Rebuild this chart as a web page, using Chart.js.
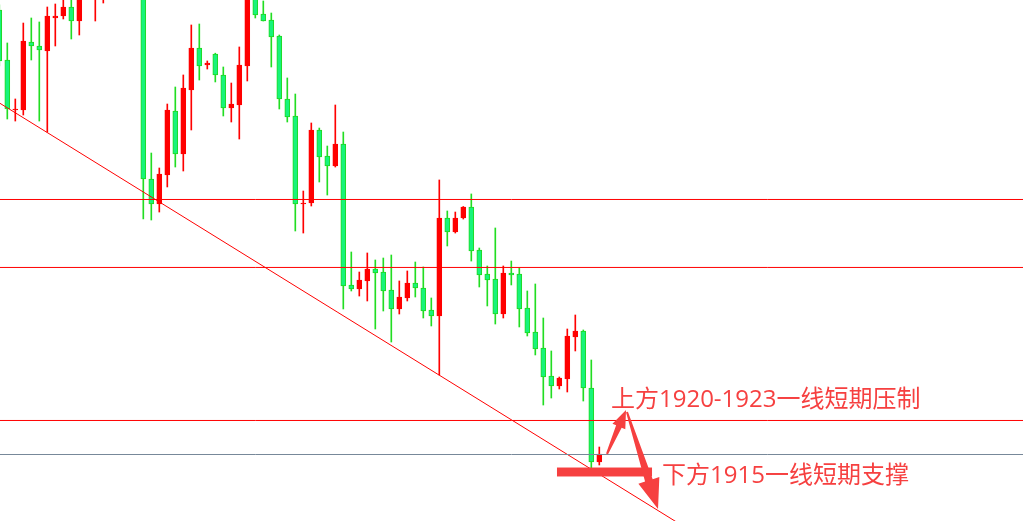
<!doctype html>
<html lang="zh">
  <head>
    <meta charset="utf-8">
    <script src="https://cdn.jsdelivr.net/npm/chart.js@4.4.1/dist/chart.umd.min.js"></script>
    <title>K线</title>
    <style>
      html, body { margin: 0; padding: 0; background: #fff; }
      #box { width: 1023px; height: 521px; position: relative; }
    </style>
  </head>
  <body>
    <div id="box"><canvas id="grafica"></canvas></div>

  <script>

    // OHLC (index = candle position)
    let opens  = [1978.57,1971.43,1964.29,1964.29,1974.0,1973.43,1972.71,1977.43,1977.71,1979.0,
                  1977.0,1984.5,1981.0,1981.5,1987.1,1989.3,1988.0,1991.0,1990.0,1954.43,
                  1950.86,1955.0,1964.14,1958.0,1967.14,1973.14,1970.71,1972.29,1969.29,1964.57,
                  1965.0,1970.57,1980.86,1978.0,1977.14,1974.86,1965.86,1963.43,1950.86,1951.0,
                  1961.43,1957.71,1956.29,1959.43,1939.29,1938.71,1939.86,1941.57,1941.14,1938.57,
                  1935.86,1937.43,1939.57,1938.86,1935.71,1934.86,1948.86,1946.86,1948.86,1950.43,
                  1944.29,1940.86,1940.14,1935.14,1941.0,1940.86,1936.0,1932.57,1930.29,1926.29,
                  1924.86,1925.86,1931.86,1932.71,1924.57,1914.0];
    let highs  = [1979.3,1973.86,1965.86,1976.71,1977.43,1976.86,1979.0,1979.43,1980.29,1980.43,
                  1983.0,1985.5,1985.0,1986.5,1990.0,1991.5,1992.0,1992.5,1990.8,1958.14,
                  1956.0,1965.14,1967.57,1969.29,1976.43,1976.57,1971.29,1972.4,1970.43,1968.14,
                  1973.29,1982.86,1982.14,1979.86,1978.14,1975.0,1968.86,1966.57,1952.71,1962.43,
                  1961.71,1959.14,1965.0,1961.14,1944.0,1941.14,1943.86,1942.86,1943.14,1943.57,
                  1939.86,1941.29,1942.57,1941.86,1937.43,1954.29,1949.86,1949.71,1950.5,1952.29,
                  1944.57,1942.0,1947.43,1942.0,1942.71,1941.71,1938.43,1939.43,1934.57,1929.86,
                  1926.14,1933.0,1935.0,1932.86,1928.57,1916.14];
    let lows   = [1970.6,1963.0,1962.71,1963.57,1971.43,1962.71,1961.14,1973.43,1977.29,1974.43,
                  1975.0,1980.8,1977.0,1979.57,1986.0,1987.5,1987.2,1988.5,1948.71,1948.57,
                  1949.71,1953.29,1956.14,1955.57,1961.43,1968.57,1970.14,1968.29,1963.43,1962.57,
                  1960.14,1968.43,1977.43,1977.0,1970.43,1964.43,1962.57,1947.0,1946.71,1950.57,
                  1954.0,1952.14,1956.14,1935.86,1938.43,1937.71,1937.0,1933.0,1935.57,1931.14,
                  1935.14,1937.0,1937.57,1934.57,1933.43,1926.43,1944.86,1946.71,1948.71,1942.71,
                  1939.0,1936.29,1933.71,1934.57,1939.29,1933.29,1932.0,1929.29,1922.14,1923.14,
                  1924.43,1924.0,1929.86,1922.71,1913.0,1913.57];
    let closes = [1971.29,1964.43,1964.43,1974.14,1973.43,1972.86,1977.71,1977.71,1979.0,1977.0,
                  1981.5,1981.2,1984.0,1985.5,1989.3,1988.0,1991.0,1990.0,1954.43,1950.86,
                  1955.14,1964.29,1958.0,1967.43,1973.14,1970.57,1971.0,1969.29,1964.57,1965.14,
                  1970.71,1981.14,1977.86,1977.0,1974.71,1965.86,1963.29,1950.86,1951.0,1961.43,
                  1957.57,1956.29,1959.43,1939.14,1938.71,1940.0,1941.57,1941.0,1938.43,1935.86,
                  1937.57,1939.57,1938.86,1935.57,1934.86,1948.86,1946.86,1948.86,1950.43,1944.14,
                  1940.71,1940.0,1935.14,1941.0,1940.71,1935.86,1932.43,1930.14,1926.14,1924.86,
                  1926.0,1932.0,1932.71,1924.57,1914.0,1915.14];

    // horizontal levels and the falling trend line
    let resistLevels = [1951.5, 1941.79, 1919.93];
    let supportLevel = 1915.07;
    let trendLine = [[0, 1965.3], [88, 1903.06]];

    let textoArriba = "上方1920-1923一线短期压制";
    let textoAbajo  = "下方1915一线短期支撑";

    let xMin = 0.0875, xMax = 0.0875 + 127.875;
    let yMin = 1905.57, yMax = 1980;

    let upColor = "#ff0000";
    let downColor = "#17f37b";
    let downEdge = "#1ed91e";
    let noteColor = "#f64040";

    let idx = opens.map((v, i) => i);
    let isUp = i => closes[i] >= opens[i];

    let bodies = idx.map(i => ({ x: i, y: [opens[i], closes[i]] }));
    let wicks  = idx.map(i => ({ x: i, y: [lows[i], highs[i]] }));

    let datasets = [];
    resistLevels.forEach(v => {
      datasets.push({ type: "line", data: [{ x: xMin, y: v }, { x: xMax, y: v }],
        borderColor: "#ff0000", borderWidth: 1, pointRadius: 0, order: 0 });
    });
    datasets.push({ type: "line", data: [{ x: xMin, y: supportLevel }, { x: xMax, y: supportLevel }],
      borderColor: "#778899", borderWidth: 1, pointRadius: 0, order: 0 });
    datasets.push({ type: "line", data: trendLine.map(p => ({ x: p[0], y: p[1] })),
      borderColor: "#ff0000", borderWidth: 1, pointRadius: 0, order: 0 });
    datasets.push({ type: "bar", data: bodies, grouped: false, barThickness: 5, minBarLength: 1,
      backgroundColor: c => isUp(c.dataIndex) ? upColor : downColor,
      borderColor: c => isUp(c.dataIndex) ? upColor : downEdge,
      borderWidth: 1, borderSkipped: false, order: 1 });
    datasets.push({ type: "bar", data: wicks, grouped: false, barThickness: 1,
      backgroundColor: c => isUp(c.dataIndex) ? upColor : "#22dd22",
      borderWidth: 0, order: 2 });

    // annotations: thick bar, two arrows, two texts (in data units)
    let notaBarra = { x1: 69.71, x2: 81.59, yTop: 1913.21, yBot: 1911.93 };
    let flecha1 = { from: [75.96, 1915.14], to: [78.34, 1921.43], head: 18, half: 7, w0: 1, w1: 3 };
    let flecha2 = { from: [78.46, 1921.14], to: [82.34, 1907.29], head: 30, half: 11, w0: 1, w1: 4 };
    let texto1Pos = [76.46, 1921.86];
    let texto2Pos = [82.84, 1911.0];

    function dibujarFlecha(ctx, sx, sy, f) {
      let ax = sx.getPixelForValue(f.from[0]), ay = sy.getPixelForValue(f.from[1]);
      let tx = sx.getPixelForValue(f.to[0]), ty = sy.getPixelForValue(f.to[1]);
      let dx = tx - ax, dy = ty - ay, len = Math.hypot(dx, dy);
      let ux = dx / len, uy = dy / len, nx = -uy, ny = ux;
      let bx = tx - ux * f.head, by = ty - uy * f.head;
      ctx.beginPath();
      ctx.moveTo(ax + nx * f.w0, ay + ny * f.w0);
      ctx.lineTo(bx + nx * f.w1, by + ny * f.w1);
      ctx.lineTo(bx + nx * f.half, by + ny * f.half);
      ctx.lineTo(tx, ty);
      ctx.lineTo(bx - nx * f.half, by - ny * f.half);
      ctx.lineTo(bx - nx * f.w1, by - ny * f.w1);
      ctx.lineTo(ax - nx * f.w0, ay - ny * f.w0);
      ctx.closePath();
      ctx.fill();
    }

    let notas = {
      id: "notas",
      afterDatasetsDraw(chart) {
        let ctx = chart.ctx, sx = chart.scales.x, sy = chart.scales.y;
        ctx.save();
        ctx.fillStyle = noteColor;
        let x1 = sx.getPixelForValue(notaBarra.x1), x2 = sx.getPixelForValue(notaBarra.x2);
        let y1 = sy.getPixelForValue(notaBarra.yTop), y2 = sy.getPixelForValue(notaBarra.yBot);
        ctx.fillRect(x1, y1, x2 - x1, y2 - y1);
        dibujarFlecha(ctx, sx, sy, flecha1);
        dibujarFlecha(ctx, sx, sy, flecha2);
        ctx.font = '24px "Open Sans", "Noto Sans CJK SC"';
        ctx.textBaseline = "alphabetic";
        ctx.fillText(textoArriba, sx.getPixelForValue(texto1Pos[0]), sy.getPixelForValue(texto1Pos[1]));
        ctx.fillText(textoAbajo, sx.getPixelForValue(texto2Pos[0]), sy.getPixelForValue(texto2Pos[1]));
        ctx.restore();
      }
    };

    let canvas = document.getElementById("grafica").getContext("2d");

    var chart = new Chart(canvas, {
      data: { datasets: datasets },
      options: {
        responsive: true,
        maintainAspectRatio: false,
        animation: false,
        layout: { padding: 0 },
        plugins: { legend: { display: false }, tooltip: { enabled: false } },
        scales: {
          x: { type: "linear", min: xMin, max: xMax, offset: false, display: false },
          y: { type: "linear", min: yMin, max: yMax, display: false }
        }
      },
      plugins: [notas]
    });

  </script>
  </body>
</html>
